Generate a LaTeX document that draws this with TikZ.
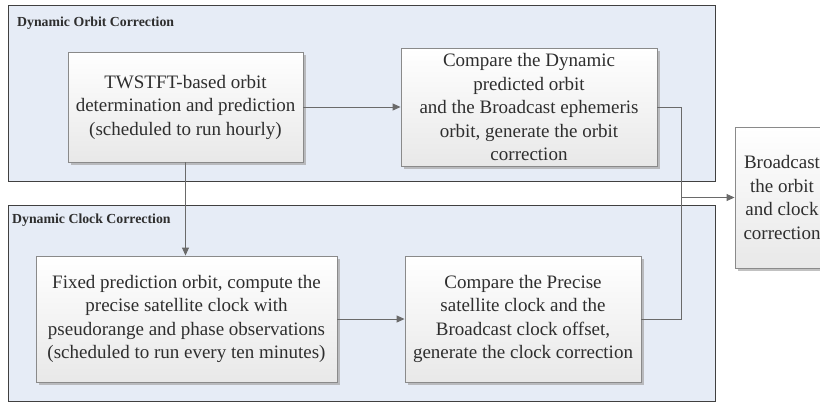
\documentclass[tikz,border=0pt]{standalone}
\usepackage{fontspec}
\setmainfont{Liberation Serif}
\usetikzlibrary{shadows,arrows.meta}
\definecolor{grpfill}{HTML}{E6ECF6}
\definecolor{grpline}{HTML}{404040}
\definecolor{boxline}{HTML}{8A8A8A}
\definecolor{linkc}{HTML}{6A6A6A}
\definecolor{txt}{HTML}{2E2E2E}
\begin{document}
\begin{tikzpicture}[x=1pt,y=-1pt,
  group/.style={draw=grpline, fill=grpfill, line width=0.9pt},
  grouptitle/.style={anchor=west, inner sep=0, text=txt,
    font=\bfseries\fontsize{13.8}{15}\selectfont},
  proc/.style={draw=boxline, line width=0.9pt, top color=white, bottom color=black!9,
    drop shadow={shadow xshift=2.5pt, shadow yshift=-2.5pt, fill=black!35, opacity=0.7},
    align=center, inner sep=0, text=txt,
    font=\fontsize{19}{23.5}\selectfont},
  link/.style={draw=linkc, line width=1pt},
  arrowlink/.style={link, -{Triangle[length=8pt,width=7pt]}}
]
\useasboundingbox (0,0) rectangle (820,407);
\clip (0,0) rectangle (820,407);

% group frames
\draw[group] (8,5) rectangle (715,181);
\node[grouptitle] (orbittitle) at (17,23) {Dynamic Orbit Correction};
\draw[group] (8,205) rectangle (715,401);
\node[grouptitle] (clocktitle) at (12,220) {Dynamic Clock Correction};

% process boxes
\node[proc, minimum width=235, minimum height=110] (twstft) at (185.5,107)
  {TWSTFT-based orbit\\determination and prediction\\(scheduled to run hourly)};
\node[proc, minimum width=256, minimum height=118] (cmporbit) at (529,107)
  {Compare the Dynamic\\predicted orbit\\and the Broadcast ephemeris\\orbit, generate the orbit\\correction};
\node[proc, minimum width=301, minimum height=126] (fixed) at (186.5,319)
  {Fixed prediction orbit, compute the\\precise satellite clock with\\pseudorange and phase observations\\(scheduled to run every ten minutes)};
\node[proc, minimum width=236, minimum height=126] (cmpclock) at (523,319)
  {Compare the Precise\\satellite clock and the\\Broadcast clock offset,\\generate the clock correction};
\node[proc, minimum width=94, minimum height=141] (bcast) at (782,197.5)
  {Broadcast\\the orbit\\and clock\\correction};

% connectors
\coordinate (merge) at (681,197.5);
\draw[arrowlink] (twstft.east) -- (cmporbit.west);
\draw[arrowlink] (twstft.south) -- (twstft.south |- fixed.north);
\draw[arrowlink] (fixed.east) -- (cmpclock.west);
\draw[link] (cmpclock.east) -| (merge);
\draw[arrowlink] (cmporbit.east) -| (merge) -- (bcast.west);
\end{tikzpicture}
\end{document}
